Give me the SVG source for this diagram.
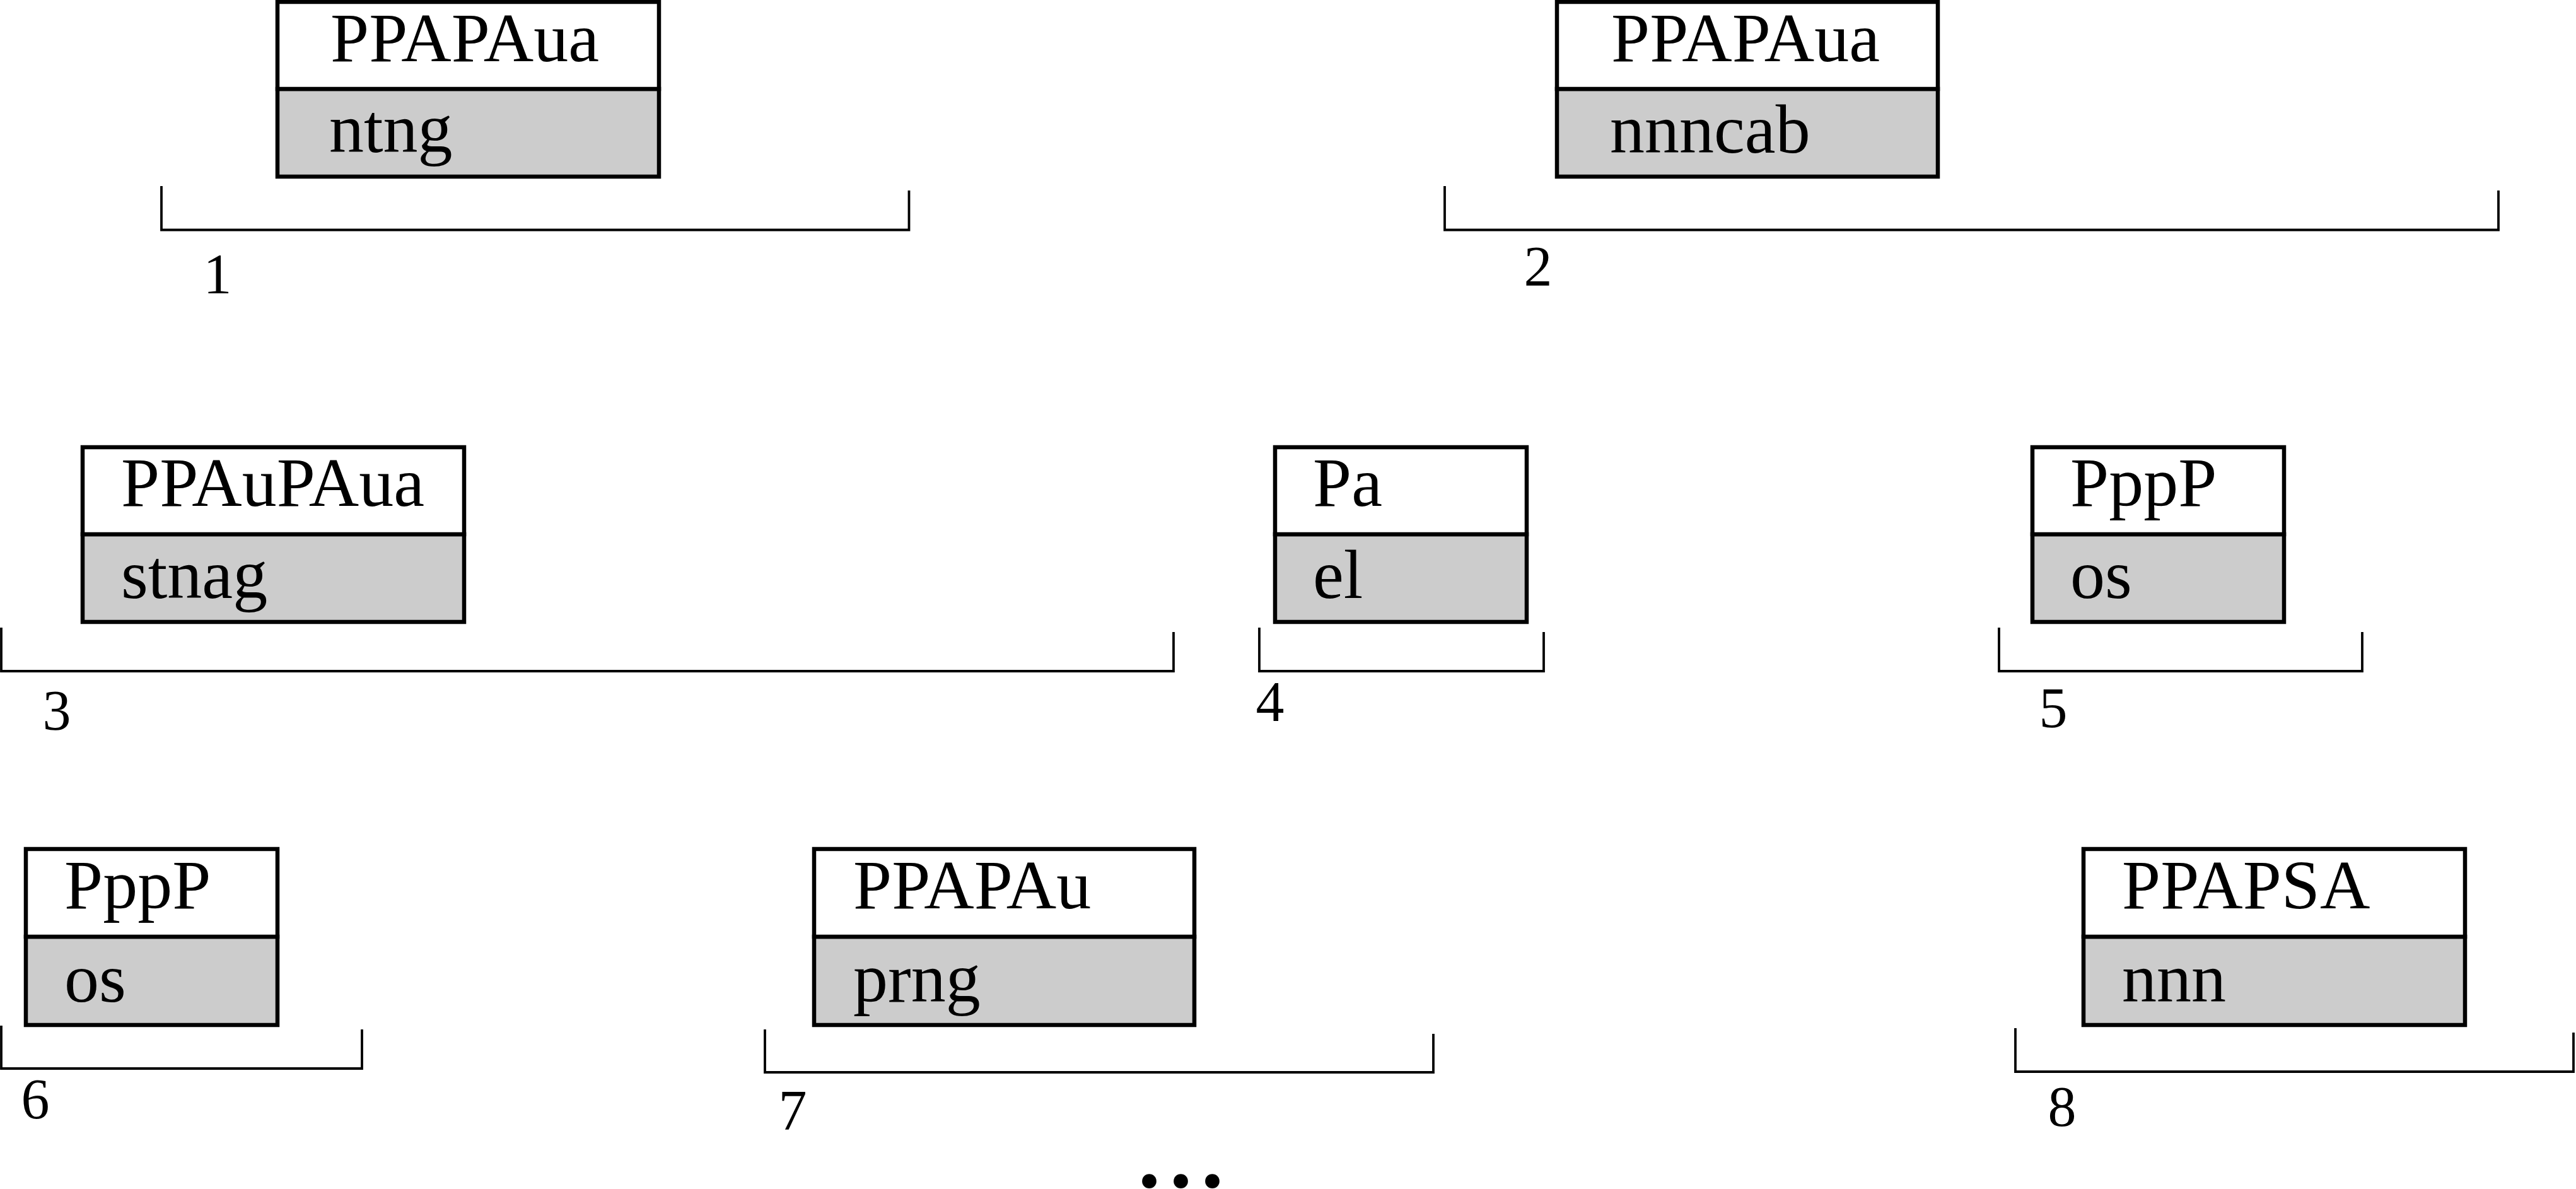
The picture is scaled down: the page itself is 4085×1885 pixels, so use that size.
<svg xmlns="http://www.w3.org/2000/svg" width="4085" height="1885" viewBox="0 0 4085 1885">
<style>
.hd{fill:#ffffff;stroke:#000;stroke-width:6.5}
.bd{fill:#cccccc;stroke:#000;stroke-width:6.5}
.t{font-family:"Liberation Serif","Times New Roman",serif;font-size:110px;fill:#000}
.n{font-family:"Liberation Serif","Times New Roman",serif;font-size:90px;fill:#000;text-anchor:middle}
.br{fill:none;stroke:#000;stroke-width:3.8}
.el{font-family:"Liberation Serif","Times New Roman",serif;font-size:140px;font-weight:bold;fill:#000;letter-spacing:15px}
</style>
<rect width="4085" height="1885" fill="#ffffff"/>
<g id="node1">
<rect class="bd" x="440" y="141" width="605" height="139"/>
<rect class="hd" x="440" y="3" width="605" height="138"/>
<text class="t" x="524" y="97">PPAPAua</text>
<text class="t" x="522" y="241">ntng</text>
</g>
<g id="node2">
<rect class="bd" x="2469" y="141" width="604" height="139"/>
<rect class="hd" x="2469" y="3" width="604" height="138"/>
<text class="t" x="2555" y="97">PPAPAua</text>
<text class="t" x="2553" y="242">nnncab</text>
</g>
<g id="node3">
<rect class="bd" x="131" y="847" width="605" height="139"/>
<rect class="hd" x="131" y="709" width="605" height="138"/>
<text class="t" x="192" y="802">PPAuPAua</text>
<text class="t" x="192" y="948">stnag</text>
</g>
<g id="node4">
<rect class="bd" x="2022" y="847" width="399" height="139"/>
<rect class="hd" x="2022" y="709" width="399" height="138"/>
<text class="t" x="2082" y="802">Pa</text>
<text class="t" x="2082" y="948">el</text>
</g>
<g id="node5">
<rect class="bd" x="3223" y="847" width="399" height="139"/>
<rect class="hd" x="3223" y="709" width="399" height="138"/>
<text class="t" x="3283" y="802">PppP</text>
<text class="t" x="3283" y="948">os</text>
</g>
<g id="node6">
<rect class="bd" x="41" y="1485" width="399" height="140"/>
<rect class="hd" x="41" y="1346" width="399" height="139"/>
<text class="t" x="102" y="1440">PppP</text>
<text class="t" x="102" y="1588">os</text>
</g>
<g id="node7">
<rect class="bd" x="1291" y="1485" width="603" height="140"/>
<rect class="hd" x="1291" y="1346" width="603" height="139"/>
<text class="t" x="1353" y="1440">PPAPAu</text>
<text class="t" x="1353" y="1588">prng</text>
</g>
<g id="node8">
<rect class="bd" x="3304" y="1485" width="605" height="140"/>
<rect class="hd" x="3304" y="1346" width="605" height="139"/>
<text class="t" x="3365" y="1440">PPAPSA</text>
<text class="t" x="3365" y="1588">nnn</text>
</g>
<g id="connectors">
<path class="br" d="M256 295 V364.5 H1441.5 V302"/>
<path class="br" d="M2291 295 V364.5 H3962 V302"/>
<path class="br" d="M2 995 V1064 H1861 V1002"/>
<path class="br" d="M1997 995 V1064 H2448 V1002"/>
<path class="br" d="M3170 995 V1064 H3746 V1002"/>
<path class="br" d="M2 1626 V1694 H574 V1632"/>
<path class="br" d="M1213 1632 V1700 H2273 V1639"/>
<path class="br" d="M3196 1630 V1699 H4081 V1637"/>
</g>
<g id="labels">
<text class="n" x="345" y="465">1</text>
<text class="n" x="2439" y="453">2</text>
<text class="n" x="90" y="1157">3</text>
<text class="n" x="2014" y="1143">4</text>
<text class="n" x="3256" y="1153">5</text>
<text class="n" x="56" y="1773">6</text>
<text class="n" x="1257" y="1791">7</text>
<text class="n" x="3270" y="1785">8</text>
<text class="el" x="1805" y="1882">...</text>
</g>
</svg>
